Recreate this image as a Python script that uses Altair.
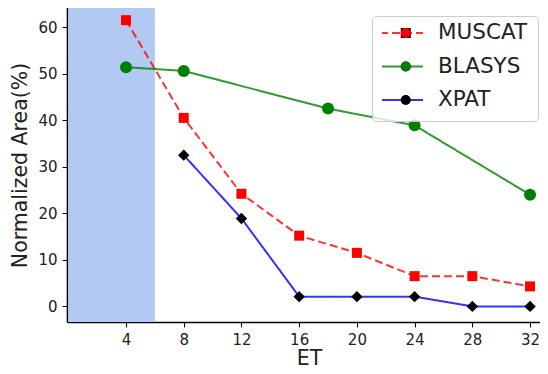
import altair as alt
import pandas as pd

# ---- data ----
series_names = ["MUSCAT", "BLASYS", "XPAT"]
muscat_x = [4, 8, 12, 16, 20, 24, 28, 32]
muscat_y = [61.5, 40.5, 24.2, 15.2, 11.5, 6.5, 6.5, 4.3]
blasys_x = [4, 8, 18, 24, 32]
blasys_y = [51.4, 50.6, 42.5, 38.9, 24.0]
xpat_x = [8, 12, 16, 20, 24, 28, 32]
xpat_y = [32.5, 18.9, 2.1, 2.1, 2.1, 0.0, 0.0]
shade_start = [0]
shade_end = [6]
x_ticks = [4, 8, 12, 16, 20, 24, 28, 32]
y_ticks = [0, 10, 20, 30, 40, 50, 60]

line_colors = ["#ff0000", "#008000", "#0000ff"]
marker_fills = ["#ff0000", "#008000", "#000000"]
marker_shapes = ["square", "circle", "diamond"]
marker_sizes = [100, 144, 130]
dashes = [[8, 4], [1, 0], [1, 0]]

rows = []
for name, xs, ys in [("MUSCAT", muscat_x, muscat_y),
                     ("BLASYS", blasys_x, blasys_y),
                     ("XPAT", xpat_x, xpat_y)]:
    for xv, yv in zip(xs, ys):
        rows.append({"series": name, "series2": name, "ET": xv, "area": yv})
df = pd.DataFrame(rows)
shade_df = pd.DataFrame({"x0": shade_start, "x1": shade_end})

W, H = 473, 315
FONT = "DejaVu Sans"
TXT = "#222222"
LEG_FS = 21.5
ROW_PAD = 11.5

xscale = alt.Scale(domain=[-0.09, 32.69], nice=False, zero=False)
yscale = alt.Scale(domain=[-3.35, 64.33], nice=False, zero=False)

xaxis = alt.Axis(values=x_ticks, grid=False, title="ET", titleFontSize=20.5,
                 titleFont=FONT, titleFontWeight="normal", titleColor=TXT,
                 labelFont=FONT, labelFontSize=15, labelColor=TXT,
                 tickSize=5, tickColor="black", labelPadding=5,
                 domainColor="black", domainWidth=1.6, titleX=242,
                 titleY=42, titleBaseline="alphabetic", titleAlign="center")
yaxis = alt.Axis(values=y_ticks, grid=False, title="Normalized Area(%)",
                 titleFontSize=20.5, titleFont=FONT, titleFontWeight="normal",
                 titleColor=TXT, labelFont=FONT, labelFontSize=15,
                 labelColor=TXT, tickSize=5, tickColor="black",
                 labelPadding=5, domainColor="black", domainWidth=1.6,
                 titleX=-47, titleY=158, titleAngle=-90,
                 titleBaseline="middle", titleAlign="center")

line_legend = alt.Legend(orient="none", legendX=305, legendY=9,
                         title=None, symbolType="stroke",
                         symbolSize=1849, symbolStrokeWidth=2,
                         symbolOffset=-3, clipHeight=14, rowPadding=ROW_PAD,
                         labelFont=FONT, labelFontSize=LEG_FS,
                         labelColor=TXT, labelOffset=14,
                         padding=10, strokeColor="#cccccc",
                         fillColor="rgba(255,255,255,0.8)", cornerRadius=4)

point_legend = alt.Legend(orient="none", legendX=328, legendY=19,
                          title=None, labelOpacity=0, labelFontSize=LEG_FS,
                          labelFont=FONT, symbolSize=100,
                          clipHeight=14, rowPadding=ROW_PAD, padding=0,
                          symbolStrokeColor="transparent",
                          symbolStrokeWidth=0.01)

shade = alt.Chart(shade_df).mark_rect(color="#b2c9f2").encode(
    x=alt.X("x0:Q", scale=xscale, axis=xaxis),
    x2="x1:Q",
    y=alt.value(0),
    y2=alt.value(H),
)

lines = alt.Chart(df).mark_line(strokeWidth=2, opacity=0.8, clip=True).encode(
    x=alt.X("ET:Q", scale=xscale),
    y=alt.Y("area:Q", scale=yscale, axis=yaxis),
    color=alt.Color("series:N",
                    scale=alt.Scale(domain=series_names, range=line_colors),
                    legend=line_legend),
    strokeDash=alt.StrokeDash("series:N",
                              scale=alt.Scale(domain=series_names, range=dashes),
                              legend=line_legend),
    order="ET:Q",
)

point_layers = []
for name, sz in zip(series_names, marker_sizes):
    point_layers.append(
        alt.Chart(df[df["series2"] == name]).mark_point(
            filled=True, opacity=1, strokeWidth=0, size=sz
        ).encode(
            x=alt.X("ET:Q", scale=xscale),
            y=alt.Y("area:Q", scale=yscale),
            fill=alt.Fill("series2:N", sort=series_names,
                          scale=alt.Scale(range=marker_fills),
                          legend=point_legend),
            shape=alt.Shape("series2:N", sort=series_names,
                            scale=alt.Scale(range=marker_shapes),
                            legend=point_legend),
        )
    )

top_border = alt.Chart(shade_df).mark_rule(color="black", strokeWidth=1.6).encode(
    x=alt.value(0), x2=alt.value(W), y=alt.value(0)
)

chart = alt.layer(shade, lines, *point_layers, top_border).properties(
    width=W, height=H,
    autosize=alt.AutoSizeParams(type="none"),
    padding={"left": 59, "top": -1, "right": 0, "bottom": 44},
).configure_view(stroke=None).configure(font=FONT)

chart.save("out.html", embed_options={"renderer": "svg", "actions": False})
